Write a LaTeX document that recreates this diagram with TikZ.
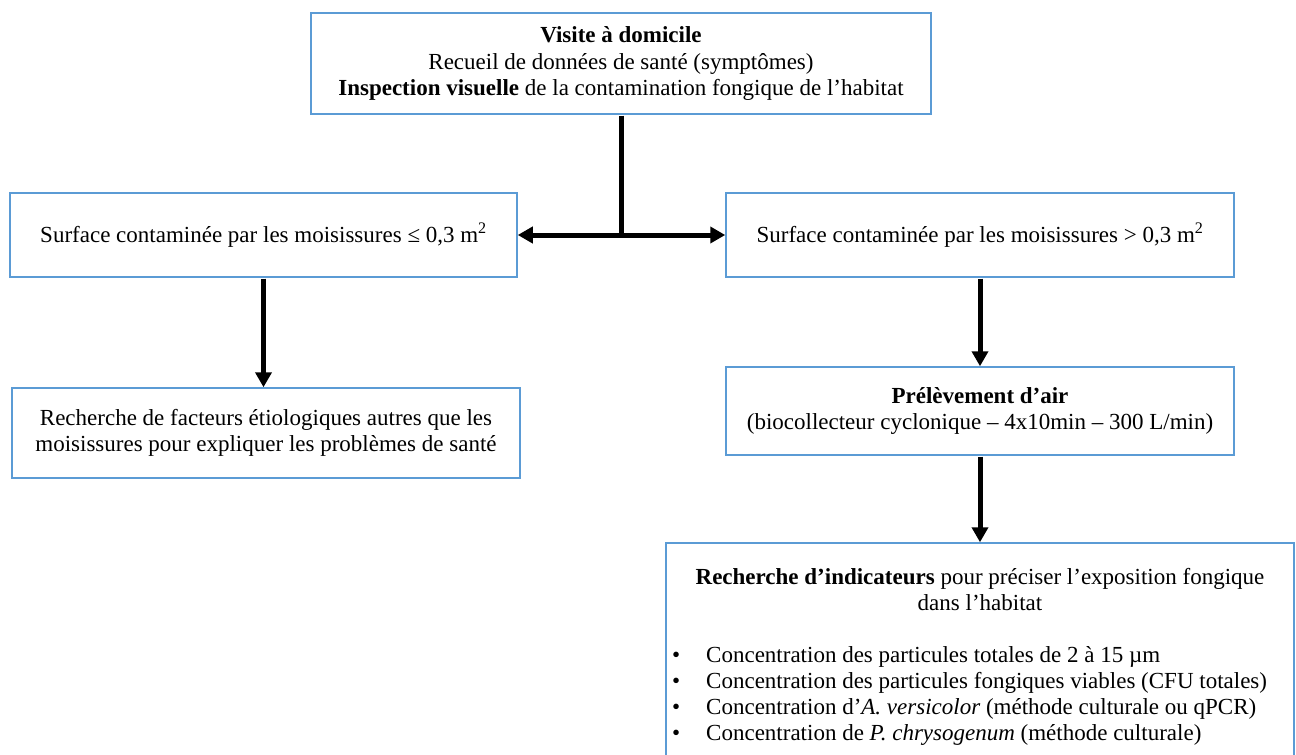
\documentclass[tikz,border=0pt]{standalone}
\usepackage{fontspec}
\setmainfont{Liberation Serif}
\usetikzlibrary{arrows.meta}
\definecolor{boxblue}{HTML}{5B9BD5}
\begin{document}
\begin{tikzpicture}[x=1pt,y=-1pt,
  box/.style={draw=boxblue, line width=1.5pt, inner sep=0pt, align=center,
    font=\fontsize{23}{26.5}\selectfont},
  conn/.style={line width=5pt, draw=black},
  arr/.style={conn, -{Triangle[length=15pt,width=16pt]}},
  txt/.style={inner sep=0pt, font=\fontsize{23}{26}\selectfont}
]
\useasboundingbox (0,0) rectangle (1296,755);
\clip (0,0) rectangle (1296,755);

\node[box, minimum width=620pt, minimum height=101pt] (top) at (621,63.5)
  {\textbf{Visite à domicile}\\Recueil de données de santé (symptômes)\\\textbf{Inspection visuelle} de la contamination fongique de l’habitat};

\node[box, minimum width=507pt, minimum height=84pt] (left) at (263.5,235)
  {Surface contaminée par les moisissures ≤ 0,3 m\textsuperscript{2}};

\node[box, minimum width=508pt, minimum height=84pt] (right) at (980,235)
  {Surface contaminée par les moisissures > 0,3 m\textsuperscript{2}};

\node[box, minimum width=508pt, minimum height=90pt] (bl) at (266,433)
  {Recherche de facteurs étiologiques autres que les\\moisissures pour expliquer les problèmes de santé};

\node[box, minimum width=508pt, minimum height=88pt] (prel) at (980,411)
  {\textbf{Prélèvement d’air}\\(biocollecteur cyclonique – 4x10min – 300 L/min)};

\node[box, minimum width=628pt, minimum height=260pt] (ind) at (980,673) {};

\node[txt, align=center] (indhead) at (980,590)
  {\textbf{Recherche d’indicateurs} pour préciser l’exposition fongique\\dans l’habitat};

\node[txt, anchor=base west] (b1) at (672,662)
  {\makebox[34pt][l]{•}Concentration des particules totales de 2 à 15 µm};
\node[txt, anchor=base west] (b2) at (672,688)
  {\makebox[34pt][l]{•}Concentration des particules fongiques viables (CFU totales)};
\node[txt, anchor=base west] (b3) at (672,714)
  {\makebox[34pt][l]{•}Concentration d’\textit{A. versicolor} (méthode culturale ou qPCR)};
\node[txt, anchor=base west] (b4) at (672,740)
  {\makebox[34pt][l]{•}Concentration de \textit{P. chrysogenum} (méthode culturale)};

\coordinate (j) at (top.south |- left.east);
\draw[conn, shorten <=0.75pt, shorten >=-2.5pt] (top.south) -- (j);
\draw[arr] (j) -- (left.east);
\draw[arr] (j) -- (right.west);
\draw[arr, shorten <=0.75pt] (left.south) -- (left.south |- bl.north);
\draw[arr, shorten <=0.75pt] (right.south) -- (prel.north);
\draw[arr, shorten <=0.75pt] (prel.south) -- (prel.south |- ind.north);
\end{tikzpicture}
\end{document}
